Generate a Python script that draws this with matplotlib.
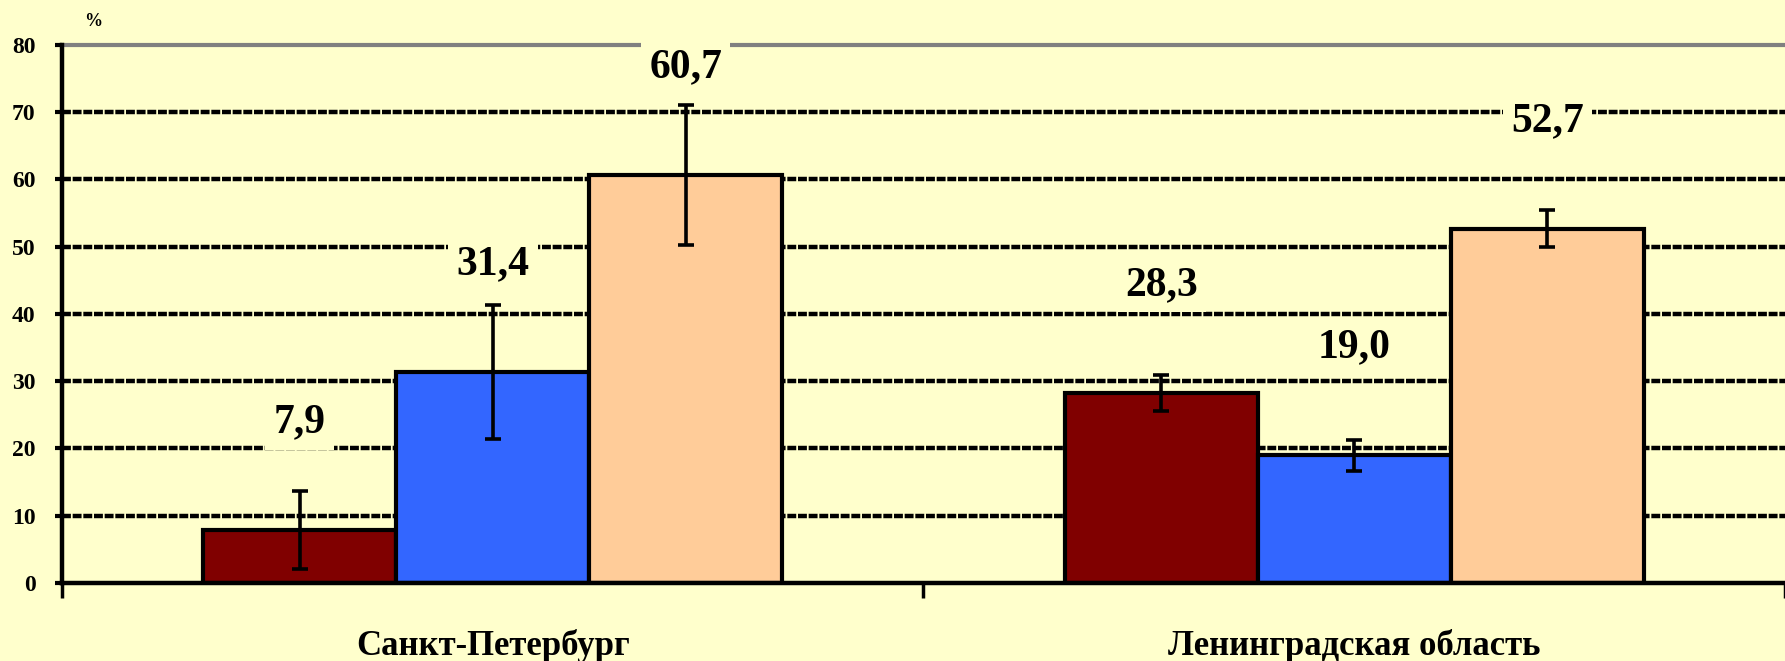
import matplotlib
matplotlib.use("Agg")
import matplotlib.pyplot as plt
import numpy as np

# data
regions = ["Санкт-Петербург", "Ленинградская область"]
series_a = [7.9, 28.3]
series_b = [31.4, 19.0]
series_c = [60.7, 52.7]
err_a = [5.8, 2.7]
err_b = [10.0, 2.3]
err_c = [10.4, 2.7]
yticks = [0, 10, 20, 30, 40, 50, 60, 70, 80]

bg = "#FFFFCC"
colors = ["#800000", "#3366FF", "#FFCC99"]
serif = ["Liberation Serif", "DejaVu Serif"]

fig = plt.figure(figsize=(17.85, 6.61), dpi=100, facecolor=bg)
ax = fig.add_axes([0.0347, 0.118, 0.9653, 0.814])
ax.set_facecolor(bg)

x = np.arange(len(regions))
w = 0.224
label_offset = 16

# gridlines behind bars
for yv in yticks[1:-1]:
    ax.axhline(yv, color="black", lw=3.2, linestyle=(0, (2.0, 0.4)), zorder=0)
ax.axhline(80, color="#808080", lw=3.0, zorder=0, clip_on=False)

groups = [(series_a, err_a), (series_b, err_b), (series_c, err_c)]
for i, (vals, errs) in enumerate(groups):
    pos = x + (i - 1) * w
    ax.bar(pos, vals, width=w, color=colors[i], edgecolor="black",
           linewidth=3.0, zorder=2)
    ax.errorbar(pos, vals, yerr=errs, fmt="none", ecolor="black",
                elinewidth=2.6, capsize=6, capthick=2.6, zorder=3)
    for px, v in zip(pos, vals):
        ax.text(px, v + label_offset, "{:.1f}".format(v).replace(".", ","),
                ha="center", va="center", fontsize=30, fontweight="bold",
                family=serif, zorder=4,
                bbox=dict(facecolor=bg, edgecolor="none", pad=6))

ax.set_xlim(-0.5, 1.5)
ax.set_ylim(0, 80)

for s in ["top", "right"]:
    ax.spines[s].set_visible(False)
ax.spines["left"].set_linewidth(3.2)
ax.spines["bottom"].set_linewidth(3.2)
ax.spines["left"].set_zorder(5)
ax.spines["bottom"].set_zorder(5)

ax.set_yticks(yticks)
ax.set_yticklabels([str(t) for t in yticks], fontsize=17, fontweight="bold",
                   family=serif)
ax.tick_params(axis="y", direction="out", length=5, width=3, pad=14)

ax.set_xticks([-0.5, 0.5, 1.5])
ax.set_xticklabels(["", "", ""])
ax.tick_params(axis="x", which="major", direction="out", length=11, width=2.5)
ax.set_xticks(x, minor=True)
ax.set_xticklabels(regions, minor=True, fontsize=25, fontweight="bold",
                   family=serif)
ax.tick_params(axis="x", which="minor", length=0, pad=33)

fig.text(0.052, 0.968, "%", fontsize=13, fontweight="bold", family=serif,
         ha="center", va="center")

fig.savefig("out.png", dpi=100, facecolor=bg)
